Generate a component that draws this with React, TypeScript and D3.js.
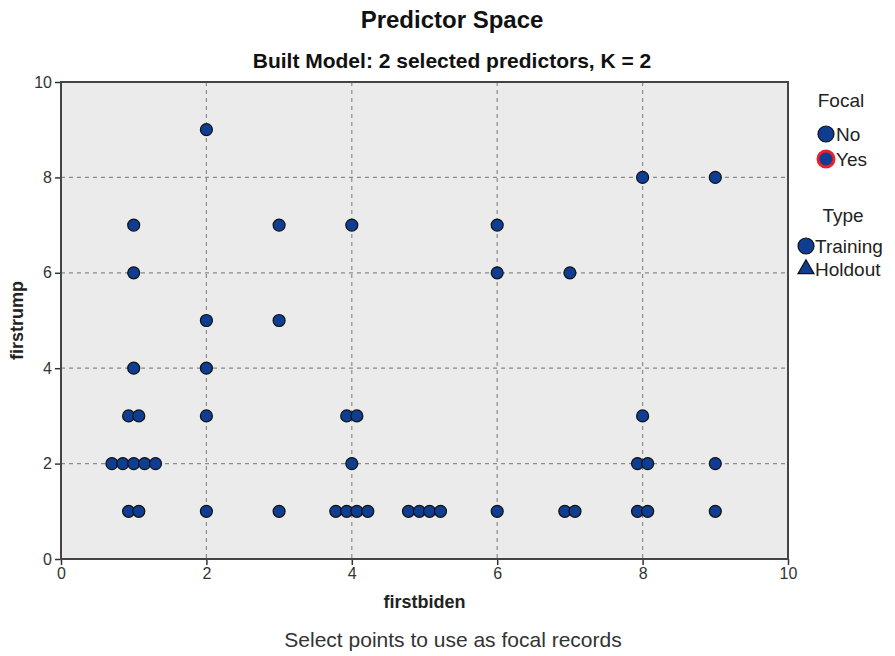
import { useEffect, useRef } from 'react';
import * as d3 from 'd3';

// firstbiden values (clustered points are dodged sideways as in the source)
const xValues = [
  2,
  8, 9,
  1, 3, 4, 6,
  1, 6, 7,
  2, 3,
  1, 2,
  0.93, 1.07, 2, 3.93, 4.07, 8,
  0.7, 0.85, 1.0, 1.15, 1.3, 4, 7.93, 8.07, 9,
  0.93, 1.07, 2, 3, 3.78, 3.93, 4.07, 4.22, 4.78, 4.93, 5.07, 5.22, 6, 6.93, 7.07, 7.93, 8.07, 9,
];
// firstrump values
const yValues = [
  9,
  8, 8,
  7, 7, 7, 7,
  6, 6, 6,
  5, 5,
  4, 4,
  3, 3, 3, 3, 3, 3,
  2, 2, 2, 2, 2, 2, 2, 2, 2,
  1, 1, 1, 1, 1, 1, 1, 1, 1, 1, 1, 1, 1, 1, 1, 1, 1, 1,
];
const tickValues = [0, 2, 4, 6, 8, 10];
const focalLabels = ['No', 'Yes'];
const typeLabels = ['Training', 'Holdout'];

export default function App() {
  const svgRef = useRef<SVGSVGElement>(null);

  useEffect(() => {
    if (!svgRef.current) return;
    const W = 895, H = 656;
    const margin = { top: 82, right: 107, bottom: 97, left: 61 };
    const width = W - margin.left - margin.right;
    const height = H - margin.top - margin.bottom;
    const font = 'Liberation Sans, Arial, sans-serif';
    const pointFill = '#0f3d92';

    d3.select(svgRef.current).selectAll('*').remove();
    const root = d3.select(svgRef.current)
      .attr('width', W)
      .attr('height', H)
      .style('font-family', font);

    root.append('rect').attr('width', W).attr('height', H).attr('fill', '#fff');

    const svg = root.append('g').attr('transform', `translate(${margin.left},${margin.top})`);

    const x = d3.scaleLinear().domain([0, 10]).range([0, width]);
    const y = d3.scaleLinear().domain([0, 10]).range([height, 0]);

    svg.append('rect')
      .attr('width', width)
      .attr('height', height)
      .attr('fill', '#ebebeb');

    // grid
    svg.selectAll('.vgrid')
      .data(tickValues.filter(t => t > 0 && t < 10))
      .enter()
      .append('line')
      .attr('x1', d => x(d)).attr('x2', d => x(d))
      .attr('y1', 0).attr('y2', height)
      .attr('stroke', '#8a8a8a')
      .attr('stroke-width', 1.2)
      .attr('stroke-dasharray', '4,4');
    svg.selectAll('.hgrid')
      .data(tickValues.filter(t => t > 0 && t < 10))
      .enter()
      .append('line')
      .attr('y1', d => y(d)).attr('y2', d => y(d))
      .attr('x1', 0).attr('x2', width)
      .attr('stroke', '#8a8a8a')
      .attr('stroke-width', 1.2)
      .attr('stroke-dasharray', '4,4');

    // axes
    const xAxis = svg.append('g')
      .attr('transform', `translate(0,${height})`)
      .call(d3.axisBottom(x).tickValues(tickValues).tickSize(6).tickPadding(3).tickFormat(d3.format('d')));
    const yAxis = svg.append('g')
      .call(d3.axisLeft(y).tickValues(tickValues).tickSize(6).tickPadding(3).tickFormat(d3.format('d')));
    [xAxis, yAxis].forEach(a => {
      a.select('.domain').remove();
      a.selectAll('line').attr('stroke', '#333').attr('stroke-width', 1.5);
      a.selectAll('text')
        .style('font-size', '16px')
        .style('font-family', font)
        .attr('fill', '#333');
    });

    // frame
    svg.append('rect')
      .attr('width', width)
      .attr('height', height)
      .attr('fill', 'none')
      .attr('stroke', '#444')
      .attr('stroke-width', 2);

    // points
    svg.selectAll('.pt')
      .data(xValues.map((v, i) => ({ x: v, y: yValues[i] })))
      .enter()
      .append('circle')
      .attr('cx', d => x(d.x))
      .attr('cy', d => y(d.y))
      .attr('r', 6)
      .attr('fill', pointFill)
      .attr('stroke', '#111')
      .attr('stroke-width', 1.2);

    // titles
    root.append('text')
      .attr('x', 452).attr('y', 28)
      .attr('text-anchor', 'middle')
      .style('font-size', '24px').style('font-weight', 'bold')
      .attr('fill', '#111')
      .text('Predictor Space');
    root.append('text')
      .attr('x', 452).attr('y', 68)
      .attr('text-anchor', 'middle')
      .style('font-size', '21px').style('font-weight', 'bold')
      .attr('fill', '#111')
      .text('Built Model: 2 selected predictors, K = 2');
    root.append('text')
      .attr('x', margin.left + width / 2).attr('y', 608)
      .attr('text-anchor', 'middle')
      .style('font-size', '18px').style('font-weight', 'bold')
      .attr('fill', '#222')
      .text('firstbiden');
    root.append('text')
      .attr('transform', `translate(23,${margin.top + height / 2}) rotate(-90)`)
      .attr('text-anchor', 'middle')
      .style('font-size', '18px').style('font-weight', 'bold')
      .attr('fill', '#222')
      .text('firstrump');
    root.append('text')
      .attr('x', 453).attr('y', 647)
      .attr('text-anchor', 'middle')
      .style('font-size', '21px')
      .attr('fill', '#333')
      .text('Select points to use as focal records');

    // legend
    const leg = root.append('g');
    leg.append('text')
      .attr('x', 841).attr('y', 107)
      .attr('text-anchor', 'middle')
      .style('font-size', '19px').attr('fill', '#222')
      .text('Focal');
    focalLabels.forEach((label, i) => {
      const cy = 134 + 25 * i;
      leg.append('circle')
        .attr('cx', 826).attr('cy', cy).attr('r', 8)
        .attr('fill', pointFill)
        .attr('stroke', i === 1 ? '#e8202a' : '#111')
        .attr('stroke-width', i === 1 ? 3 : 1.2);
      leg.append('text')
        .attr('x', 836).attr('y', cy + 7)
        .style('font-size', '19px').attr('fill', '#222')
        .text(label);
    });
    leg.append('text')
      .attr('x', 843).attr('y', 222)
      .attr('text-anchor', 'middle')
      .style('font-size', '19px').attr('fill', '#222')
      .text('Type');
    typeLabels.forEach((label, i) => {
      const cy = 246 + 23 * i;
      if (i === 0) {
        leg.append('circle')
          .attr('cx', 806).attr('cy', cy).attr('r', 8)
          .attr('fill', pointFill).attr('stroke', '#111').attr('stroke-width', 1.2);
      } else {
        leg.append('path')
          .attr('d', d3.symbol().type(d3.symbolTriangle).size(110)())
          .attr('transform', `translate(806,${cy})`)
          .attr('fill', pointFill).attr('stroke', '#111').attr('stroke-width', 1.2);
      }
      leg.append('text')
        .attr('x', 815).attr('y', cy + 7)
        .style('font-size', '19px').attr('fill', '#222')
        .text(label);
    });
  }, []);

  return <svg ref={svgRef} style={{ display: 'block', position: 'absolute', left: 0, top: 0 }}></svg>;
}
